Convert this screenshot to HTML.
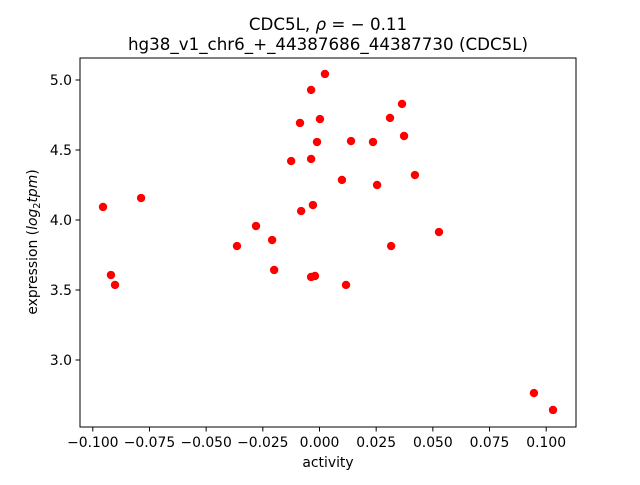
<!DOCTYPE html>
<html><head><meta charset="utf-8"><style>
body{margin:0;background:#fff}
svg text{font-family:"DejaVu Sans","Liberation Sans",sans-serif;fill:#000}
</style></head><body>
<svg width="640" height="480">
<g id="g"></g>
</svg>
<script>
const xs=[-0.0955,-0.0920,-0.0902,-0.0787,-0.0364,-0.0280,-0.0209,-0.0200,-0.0125,-0.0086,-0.0081,-0.0037,-0.0037,-0.0037,-0.0029,-0.0020,-0.0011,0.0002,0.0024,0.0099,0.0117,0.0139,0.0236,0.0254,0.0311,0.0316,0.0364,0.0373,0.0421,0.0527,0.0946,0.1030];
const ys=[4.093,3.607,3.536,4.157,3.814,3.957,3.857,3.643,4.421,4.693,4.064,4.929,4.436,3.593,4.107,3.600,4.557,4.721,5.043,4.286,3.536,4.564,4.557,4.250,4.729,3.814,4.829,4.600,4.321,3.914,2.764,2.643];
const xticks=[-0.1,-0.075,-0.05,-0.025,0,0.025,0.05,0.075,0.1];
const xtickLabels=["−0.100","−0.075","−0.050","−0.025","0.000","0.025","0.050","0.075","0.100"];
const yticks=[3.0,3.5,4.0,4.5,5.0];
const ytickLabels=["3.0","3.5","4.0","4.5","5.0"];
const L=80,R=576,T=58,B=427;
const X=v=>319.5+v*2267;
const Y=v=>360-(v-3)*140;
const g=document.getElementById('g');
const NS='http://www.w3.org/2000/svg';
function mk(t,a,txt){const e=document.createElementNS(NS,t);for(const k in a)e.setAttribute(k,a[k]);if(txt!==undefined)e.textContent=txt;g.appendChild(e);return e;}
xs.forEach((x,i)=>{const c=mk('circle',{cx:X(x),cy:Y(ys[i]),r:4.2,fill:'#ff0000'});

});
const fr=mk('rect',{x:L,y:T,width:R-L,height:B-T,fill:'none',stroke:'#000','stroke-width':1});


xticks.forEach((v,i)=>{mk('line',{x1:X(v),x2:X(v),y1:B,y2:B+4.5,stroke:'#000'});
const t=mk('text',{x:X(v),y:B+20,'font-size':13.9,'text-anchor':'middle'},xtickLabels[i]);

});
yticks.forEach((v,i)=>{mk('line',{x1:L-4.5,x2:L,y1:Y(v),y2:Y(v),stroke:'#000'});
const t=mk('text',{x:L-8,y:Y(v)+5,'font-size':13.9,'text-anchor':'end'},ytickLabels[i]);

});
</script>
<svg width="640" height="480" style="position:absolute;left:0;top:0">
<text x="328" y="30" font-size="16.7" text-anchor="middle">CDC5L, <tspan font-style="italic">ρ</tspan> = − 0.11</text>
<text x="328" y="50" font-size="16.7" text-anchor="middle">hg38_v1_chr6_+_44387686_44387730 (CDC5L)</text>
<text x="328" y="467" font-size="13.9" text-anchor="middle">activity</text>
<text transform="translate(37,242) rotate(-90)" font-size="13.9" text-anchor="middle">expression (<tspan font-style="italic">log</tspan><tspan font-size="9.7" dy="3">2</tspan><tspan font-style="italic" dy="-3">tpm</tspan>)</text>
</svg>
</body></html>
